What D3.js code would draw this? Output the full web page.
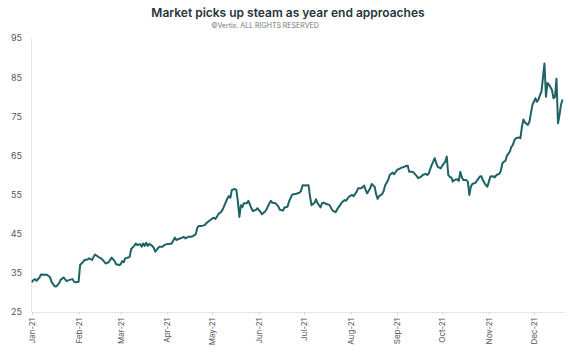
<!DOCTYPE html>
<html><head><meta charset="utf-8">
<script src="https://cdn.jsdelivr.net/npm/d3@7"></script>
<style>body{margin:0;background:#fff;}svg{display:block;font-family:"Inter","Noto Sans",sans-serif;}</style>
</head><body><svg id="c" width="570" height="357"></svg>
<script>
const title = "Market picks up steam as year end approaches";
const subtitle = "©Vertis. ALL RIGHTS RESERVED";
const yTicks = [25,35,45,55,65,75,85,95];
const monthTicks = ["2021-01-01","2021-02-01","2021-03-01","2021-04-01","2021-05-01","2021-06-01","2021-07-01","2021-08-01","2021-09-01","2021-10-01","2021-11-01","2021-12-01"];
const dates = [
"2021-01-01","2021-01-02","2021-01-03","2021-01-04","2021-01-06","2021-01-07","2021-01-09","2021-01-11","2021-01-13","2021-01-14","2021-01-16","2021-01-17","2021-01-19","2021-01-20","2021-01-22","2021-01-23","2021-01-24","2021-01-26","2021-01-28","2021-01-29","2021-01-30",
"2021-02-01","2021-02-02","2021-02-04","2021-02-05","2021-02-07","2021-02-08","2021-02-10","2021-02-11","2021-02-12","2021-02-14","2021-02-16","2021-02-17","2021-02-19","2021-02-21","2021-02-22","2021-02-23","2021-02-25","2021-02-26","2021-02-28",
"2021-03-01","2021-03-02","2021-03-03","2021-03-04","2021-03-06","2021-03-07","2021-03-08","2021-03-10","2021-03-11","2021-03-12","2021-03-14","2021-03-15","2021-03-16","2021-03-17","2021-03-18","2021-03-19","2021-03-20","2021-03-22","2021-03-23","2021-03-24","2021-03-26","2021-03-27","2021-03-29","2021-03-30",
"2021-04-01","2021-04-02","2021-04-04","2021-04-06","2021-04-07","2021-04-09","2021-04-11","2021-04-12","2021-04-13","2021-04-15","2021-04-17","2021-04-18","2021-04-20","2021-04-21","2021-04-22","2021-04-24","2021-04-26","2021-04-27","2021-04-29",
"2021-05-01","2021-05-02","2021-05-03","2021-05-04","2021-05-05","2021-05-07","2021-05-08","2021-05-09","2021-05-11","2021-05-12","2021-05-13","2021-05-14","2021-05-16","2021-05-17","2021-05-18","2021-05-19","2021-05-20","2021-05-21","2021-05-22","2021-05-24","2021-05-25","2021-05-27","2021-05-28","2021-05-30","2021-05-31",
"2021-06-02","2021-06-03","2021-06-05","2021-06-06","2021-06-08","2021-06-09","2021-06-10","2021-06-12","2021-06-14","2021-06-15","2021-06-17","2021-06-18","2021-06-20","2021-06-21","2021-06-23","2021-06-24","2021-06-26","2021-06-28","2021-06-29","2021-06-30",
"2021-07-02","2021-07-03","2021-07-04","2021-07-05","2021-07-06","2021-07-08","2021-07-09","2021-07-10","2021-07-12","2021-07-13","2021-07-14","2021-07-16","2021-07-18","2021-07-19","2021-07-20","2021-07-22","2021-07-23","2021-07-25","2021-07-26","2021-07-28","2021-07-29","2021-07-30","2021-07-31",
"2021-08-02","2021-08-03","2021-08-05","2021-08-06","2021-08-08","2021-08-09","2021-08-10","2021-08-11","2021-08-12","2021-08-14","2021-08-15","2021-08-17","2021-08-18","2021-08-19","2021-08-20","2021-08-22","2021-08-23","2021-08-24","2021-08-26","2021-08-27","2021-08-29","2021-08-30",
"2021-09-01","2021-09-02","2021-09-04","2021-09-05","2021-09-07","2021-09-08","2021-09-09","2021-09-11","2021-09-12","2021-09-14","2021-09-15","2021-09-17","2021-09-18","2021-09-20","2021-09-21","2021-09-22","2021-09-24","2021-09-25","2021-09-26","2021-09-27","2021-09-28","2021-09-30",
"2021-10-01","2021-10-03","2021-10-04","2021-10-05","2021-10-06","2021-10-07","2021-10-08","2021-10-09","2021-10-11","2021-10-12","2021-10-13","2021-10-14","2021-10-15","2021-10-17","2021-10-18","2021-10-19","2021-10-20","2021-10-21","2021-10-23","2021-10-24","2021-10-26","2021-10-27","2021-10-28","2021-10-29","2021-10-30","2021-10-31",
"2021-11-01","2021-11-02","2021-11-04","2021-11-05","2021-11-06","2021-11-08","2021-11-09","2021-11-10","2021-11-11","2021-11-12","2021-11-13","2021-11-15","2021-11-16","2021-11-17","2021-11-18","2021-11-19","2021-11-21","2021-11-22","2021-11-23","2021-11-24","2021-11-25","2021-11-27","2021-11-28","2021-11-29","2021-11-30",
"2021-12-02","2021-12-03","2021-12-04","2021-12-05","2021-12-06","2021-12-08","2021-12-09","2021-12-10","2021-12-11","2021-12-12","2021-12-13","2021-12-14","2021-12-15","2021-12-16","2021-12-17","2021-12-18","2021-12-19","2021-12-20"];
const prices = [
32.6,33.2,33.4,33.0,33.8,34.6,34.5,34.5,33.9,32.7,31.6,31.5,32.3,33.2,33.8,33.4,32.9,33.2,33.4,32.7,32.6,
32.7,37.0,37.8,38.3,38.4,38.7,38.3,39.1,39.7,39.1,38.7,38.3,37.4,37.7,38.3,38.9,38.0,37.2,37.0,
37.2,38.0,37.7,38.7,38.9,39.1,41.1,41.9,42.5,42.1,42.3,41.7,42.5,41.9,42.7,41.9,42.4,41.9,41.4,40.4,41.4,41.7,41.7,42.1,
42.4,42.4,42.5,44.0,43.4,43.7,44.0,44.2,43.8,44.2,44.2,44.4,44.9,46.5,47.0,47.0,47.2,47.7,48.3,
48.9,49.1,48.8,49.3,50.0,50.6,51.3,52.2,54.0,54.6,54.2,56.2,56.4,56.2,53.2,49.3,52.3,51.8,52.8,52.8,53.4,51.5,50.8,51.1,51.5,
50.6,50.0,50.6,51.2,52.8,53.4,52.9,52.8,51.9,51.1,50.9,51.7,51.9,53.2,54.9,55.1,55.2,55.5,55.9,57.4,
57.3,57.4,57.4,54.5,52.3,52.9,53.8,52.8,51.7,52.8,52.9,52.6,52.3,51.6,50.9,50.5,51.2,52.3,52.9,53.6,53.4,54.0,54.5,
54.9,54.6,55.7,56.6,56.6,56.9,57.3,56.2,55.3,56.6,57.7,57.0,55.1,53.9,54.6,55.1,55.9,57.4,58.7,60.0,60.6,60.2,
61.3,61.5,61.9,62.0,62.3,62.4,60.8,60.8,60.6,59.7,59.2,59.6,60.0,60.3,60.0,60.4,62.6,63.4,64.3,63.0,62.1,61.7,
62.4,63.4,64.7,60.0,59.5,59.4,58.3,58.7,58.9,58.5,60.8,59.4,58.7,58.7,58.3,54.9,57.0,57.7,58.0,58.5,59.6,59.7,58.7,58.0,57.4,57.0,
58.3,59.6,59.7,59.4,60.0,60.3,61.1,63.0,63.4,63.6,64.9,66.0,67.2,67.7,68.9,69.4,69.6,69.4,72.3,74.2,73.4,72.8,73.6,75.8,77.9,
79.6,78.7,79.3,80.4,81.3,88.5,80.0,83.5,83.1,82.4,81.7,79.6,80.0,84.6,73.2,75.3,77.9,79.3];

const parse = d3.timeParse("%Y-%m-%d");
const data = dates.map((d,i)=>({date:parse(d), v:prices[i]}));
const svg = d3.select("#c");
const x = d3.scaleTime().domain([parse("2021-01-01"), parse("2021-12-21")]).range([32, 564]);
const y = d3.scaleLinear().domain([25,95]).range([312,38]);

svg.append("text").attr("x",288).attr("y",17).attr("text-anchor","middle")
  .attr("font-size",12).attr("font-weight",600).attr("fill","#26353b").text(title);
svg.append("text").attr("x",265).attr("y",28).attr("text-anchor","middle")
  .attr("font-size",7).attr("fill","#777").text(subtitle);

// y axis
const ya = svg.append("g").attr("transform","translate(31,0)")
  .call(d3.axisLeft(y).tickValues(yTicks).tickSize(0).tickPadding(9));
ya.select(".domain").attr("stroke","#e6e6e6");
ya.selectAll("text").attr("font-size",9).attr("fill","#555").attr("font-family","Inter, Noto Sans, sans-serif");

// x axis
const xa = svg.append("g").attr("transform","translate(0,312)")
  .call(d3.axisBottom(x).tickValues(monthTicks.map(parse)).tickFormat(d3.timeFormat("%b-%y")).tickSize(3).tickSizeOuter(0));
xa.select(".domain").attr("stroke","#e6e6e6");
xa.selectAll(".tick line").attr("stroke","#d8d8d8");
xa.selectAll("text").attr("font-size",8).attr("fill","#555").attr("font-family","Inter, Noto Sans, sans-serif")
  .attr("text-anchor","end").attr("transform","rotate(-90)").attr("x",-6).attr("y",0).attr("dy","0.32em");

svg.append("path").datum(data)
  .attr("fill","none").attr("stroke","#1d6366").attr("stroke-width",2).attr("stroke-linejoin","round")
  .attr("d", d3.line().x(d=>x(d.date)).y(d=>y(d.v)));
</script></body></html>
